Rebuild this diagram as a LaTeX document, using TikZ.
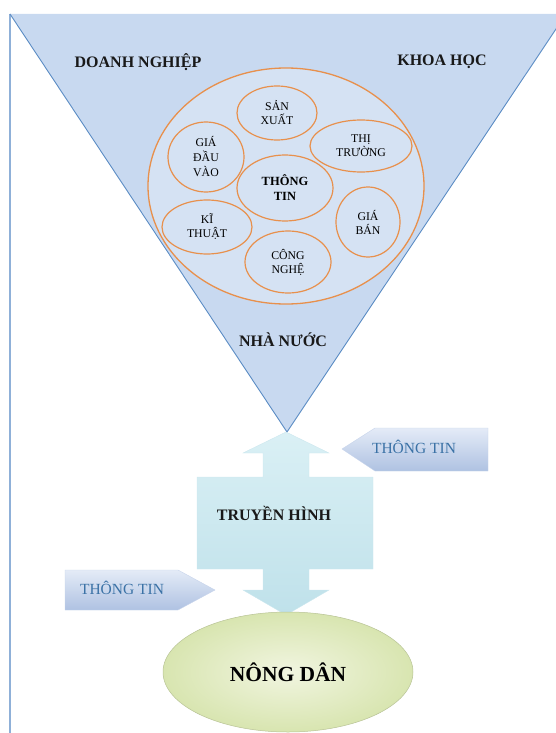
\documentclass[tikz,border=0pt]{standalone}
\usepackage{fontspec}
\setmainfont{Liberation Serif}
\usetikzlibrary{shapes.geometric}
\definecolor{trifill}{HTML}{C8D9F0}
\definecolor{triedge}{HTML}{5B8CC4}
\definecolor{circfill}{HTML}{D5E2F3}
\definecolor{orangeline}{HTML}{E8904C}
\definecolor{bordercol}{HTML}{8FB0D8}
\definecolor{boxtop}{HTML}{DAF0F5}
\definecolor{boxbot}{HTML}{BFE1EA}
\definecolor{arrtop}{HTML}{E4EBF7}
\definecolor{arrbot}{HTML}{AFC2E2}
\definecolor{infotext}{HTML}{3B72A6}
\definecolor{ndinner}{HTML}{F1F5E0}
\definecolor{ndouter}{HTML}{D8E5B0}
\tikzset{
  oval/.style={ellipse, draw=orangeline, line width=1.2pt, inner sep=0pt,
    align=center, font=\fontsize{11.8}{14}\selectfont, text=black},
  biglabel/.style={font=\fontsize{16}{18}\selectfont\bfseries, text=black!90},
  infolabel/.style={font=\fontsize{15.5}{18}\selectfont, text=infotext},
  sidearrow/.style={top color=arrtop, bottom color=arrbot, draw=arrbot!70, line width=0.4pt}
}
\begin{document}
\begin{tikzpicture}[x=1pt,y=-1pt]
\useasboundingbox (0,0) rectangle (556,733);
\clip (0,0) rectangle (556,733);
% left border
\draw[bordercol, line width=1.6pt] (10,14) -- (10,733);
% funnel triangle
\fill[trifill] (10,14) -- (566,14) -- (287,432) -- cycle;
\draw[triedge, line width=0.9pt] (10,14) -- (287,432) -- (566,14);
% big circle
\node[ellipse, fill=circfill, draw=orangeline, line width=1.3pt, minimum width=276pt, minimum height=236pt, inner sep=0pt] (circ) at (286,186) {};
% small ellipses
\node[oval, minimum width=80pt, minimum height=54pt] (sx) at (277,113) {SẢN\\XUẤT};
\node[oval, minimum width=102pt, minimum height=52pt] (tt) at (361,146) {THỊ\\TRƯỜNG};
\node[oval, minimum width=76pt, minimum height=70pt, font=\fontsize{11.8}{15}\selectfont] (gdv) at (206,157) {GIÁ\\ĐẦU\\VÀO};
\node[oval, minimum width=96pt, minimum height=66pt, font=\fontsize{12.5}{15}\selectfont\bfseries] (info) at (285,188) {THÔNG\\TIN};
\node[oval, minimum width=90pt, minimum height=54pt] (kt) at (207,227) {KĨ\\THUẬT};
\node[oval, minimum width=64pt, minimum height=70pt] (gb) at (368,222) {GIÁ\\BÁN};
\node[oval, minimum width=86pt, minimum height=62pt] (cn) at (288,262) {CÔNG\\NGHỆ};
% funnel labels
\node[biglabel] (dn) at (138,62) {DOANH NGHIỆP};
\node[biglabel] (kh) at (442,62) {KHOA HỌC};
\node[biglabel] (nn) at (283,340) {NHÀ NƯỚC};
% double arrow box
\shade[top color=boxtop, bottom color=boxbot, draw=boxbot!80, line width=0.4pt]
  (286,432) -- (329,453) -- (309,453) -- (309,477) -- (373,477) -- (373,569)
  -- (309,569) -- (309,590) -- (329,590) -- (286,615) -- (243,590) -- (263,590)
  -- (263,569) -- (197,569) -- (197,477) -- (263,477) -- (263,453) -- (243,453) -- cycle;
\node[biglabel] (th) at (274,513) {TRUYỀN HÌNH};
% side arrows
\shade[sidearrow] (342,449) -- (375,428) -- (488,428) -- (488,471) -- (375,471) -- cycle;
\node[infolabel] (info1) at (414,447) {THÔNG TIN};
\shade[sidearrow] (65,570) -- (178,570) -- (215,590) -- (178,610) -- (65,610) -- cycle;
\node[infolabel] (info2) at (122,588) {THÔNG TIN};
% farmer ellipse
\node[ellipse, inner color=ndinner, outer color=ndouter, draw=ndouter!85!black, line width=0.5pt,
  minimum width=250pt, minimum height=120pt, inner sep=0pt,
  font=\fontsize{21.5}{24}\selectfont\bfseries] (nd) at (288,672) {NÔNG DÂN};
\end{tikzpicture}
\end{document}
